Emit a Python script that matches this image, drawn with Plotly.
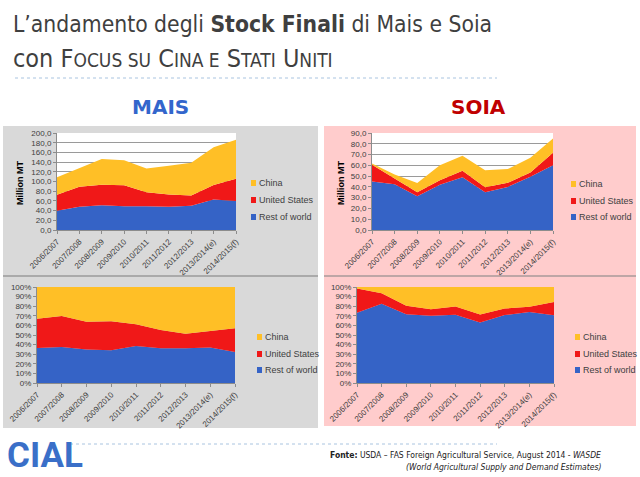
import plotly.graph_objects as go

W, H = 640, 477

years = ["2006/2007", "2007/2008", "2008/2009", "2009/2010", "2010/2011",
         "2011/2012", "2012/2013", "2013/2014(e)", "2014/2015(f)"]
series_names = ["Rest of world", "United States", "China"]

mais_row = [39.7, 48.0, 51.0, 49.0, 49.0, 48.0, 50.0, 63.0, 60.0]
mais_us = [33.1, 41.3, 42.5, 43.4, 28.6, 25.1, 20.9, 30.0, 45.9]
mais_cn = [35.9, 38.6, 53.0, 51.4, 49.4, 59.3, 67.6, 77.8, 80.0]

soia_row = [45.0, 42.5, 31.2, 42.0, 49.0, 35.0, 40.0, 49.5, 60.0]
soia_us = [15.6, 5.6, 3.8, 4.1, 5.9, 4.6, 3.8, 3.8, 11.7]
soia_cn = [1.0, 3.4, 8.5, 13.9, 14.1, 15.9, 12.7, 13.7, 13.3]

colors = ["#3563C6", "#F01818", "#FFBF26"]

def X(px):
    return px / W

def Y(px):
    return 1 - px / H

fig = go.Figure()

subplots = [
    ("x", "y", [mais_row, mais_us, mais_cn], False, (57, 236), (133, 230), 200, 20),
    ("x2", "y2", [soia_row, soia_us, soia_cn], False, (372, 553), (133, 230), 90, 10),
    ("x3", "y3", [mais_row, mais_us, mais_cn], True, (37, 235), (287, 383), 100, 10),
    ("x4", "y4", [soia_row, soia_us, soia_cn], True, (357, 554), (287, 383), 100, 10),
]

tickfont = dict(family="Liberation Sans, Arial", size=8, color="#404040")
shapes = []
shapes.append(dict(type="rect", xref="paper", yref="paper", x0=X(3), x1=X(318), y0=Y(428), y1=Y(126),
                   fillcolor="#D9D9D9", line=dict(width=0), layer="below"))
shapes.append(dict(type="rect", xref="paper", yref="paper", x0=X(324), x1=X(636), y0=Y(426), y1=Y(126),
                   fillcolor="#FFCCCC", line=dict(width=0), layer="below"))
shapes.append(dict(type="line", xref="paper", yref="paper", x0=X(3), x1=X(318), y0=Y(276), y1=Y(276),
                   line=dict(color="#9A9A9A", width=1.5)))
shapes.append(dict(type="line", xref="paper", yref="paper", x0=X(324), x1=X(636), y0=Y(276), y1=Y(276),
                   line=dict(color="#A89A9A", width=1.5)))

layout_axes = {}
for i, (xa, ya, data, pct, (xl, xr), (yt, yb), ymax, dt) in enumerate(subplots):
    sg = "s%d" % i
    for k, (vals, name) in enumerate(zip(data, series_names)):
        tr = dict(x=years, y=vals, name=name, mode="lines", stackgroup=sg,
                  line=dict(width=0, color=colors[k]), fillcolor=colors[k],
                  xaxis=xa, yaxis=ya, showlegend=False, hoverinfo="skip")
        if pct and k == 0:
            tr["groupnorm"] = "percent"
        fig.add_trace(go.Scatter(**tr))
    xkey = "xaxis" + xa[1:]
    ykey = "yaxis" + ya[1:]
    layout_axes[xkey] = dict(domain=[X(xl), X(xr)], anchor=ya, type="category",
                             range=[0, 8], tickangle=-45, tickfont=tickfont,
                             showline=True, linecolor="#8C8C8C", linewidth=1,
                             ticks="outside", ticklen=3, tickcolor="#8C8C8C",
                             showgrid=False, zeroline=False, fixedrange=True,
                             automargin=False)
    yax = dict(domain=[Y(yb), Y(yt)], anchor=xa, range=[0, ymax], dtick=dt,
               tickfont=tickfont, showline=True, linecolor="#8C8C8C", linewidth=1,
               ticks="outside", ticklen=3, tickcolor="#8C8C8C", zeroline=False,
               fixedrange=True, automargin=False)
    if pct:
        yax.update(ticksuffix="%", showgrid=False)
    else:
        yax.update(tickformat=".1f", showgrid=True, gridcolor="#9A9A9A", gridwidth=1)
        shapes.append(dict(type="rect", xref=xa + " domain", yref=ya + " domain",
                           x0=0, x1=1, y0=0, y1=1, fillcolor="white",
                           line=dict(width=0), layer="below"))
    layout_axes[ykey] = yax

annotations = []

def txt(text, x, y, size, color="#404040", family="DejaVu Sans Condensed, DejaVu Sans",
        xanchor="left", yanchor="middle", angle=0):
    annotations.append(dict(text=text, x=X(x), y=Y(y), xref="paper", yref="paper",
                            showarrow=False, xanchor=xanchor, yanchor=yanchor,
                            textangle=angle, font=dict(size=size, color=color, family=family)))

txt("L’andamento degli <b>Stock Finali</b> di Mais e Soia", 11, 24, 22.7, color="#3F3F3F")
sc = 19
txt("con F<span style='font-size:%dpx'>OCUS SU</span> C<span style='font-size:%dpx'>INA E</span> "
    "S<span style='font-size:%dpx'>TATI</span> U<span style='font-size:%dpx'>NITI</span>" % (sc, sc, sc, sc),
    11, 58, 25, color="#3F3F3F")
shapes.append(dict(type="line", xref="paper", yref="paper", x0=X(15), x1=X(497), y0=Y(78), y1=Y(78),
                   line=dict(color="#A9C4E0", width=1, dash="dot")))

txt("<b>MAIS</b>", 160, 107, 20, color="#3366CC", family="DejaVu Sans", xanchor="center")
txt("<b>SOIA</b>", 478, 107, 20, color="#C00000", family="DejaVu Sans", xanchor="center")

txt("<b>Million MT</b>", 20, 183, 9, color="#000000", family="Liberation Sans, Arial",
    xanchor="center", angle=-90)
txt("<b>Million MT</b>", 341, 183, 9, color="#000000", family="Liberation Sans, Arial",
    xanchor="center", angle=-90)

legend_pos = [(251, [183, 200, 217]), (571, [184, 201, 217]),
              (257, [337, 354, 370]), (575, [337, 354, 370])]
order = [2, 1, 0]
for lx, rows in legend_pos:
    for ry, k in zip(rows, order):
        shapes.append(dict(type="rect", xref="paper", yref="paper",
                           x0=X(lx), x1=X(lx + 5), y0=Y(ry + 3), y1=Y(ry - 3),
                           fillcolor=colors[k], line=dict(width=0)))
        txt(series_names[k], lx + 6, ry, 9, color="#404040", family="Liberation Sans, Arial")

shapes.append(dict(type="line", xref="paper", yref="paper", x0=X(70), x1=X(497), y0=Y(444), y1=Y(444),
                   line=dict(color="#A9C4E0", width=1, dash="dot")))
txt("<b>Fonte:</b> USDA – FAS Foreign Agricultural Service, August 2014 - <i>WASDE</i>",
    603, 455, 8.5, color="#222222", xanchor="right")
txt("<i>(World Agricultural Supply and Demand Estimates)</i>", 603, 467, 8.5,
    color="#222222", xanchor="right")
txt("<b>CIAL</b>", 5, 455, 35, color="#3A6FC8", family="Roboto, Liberation Sans")

fig.update_layout(width=W, height=H, margin=dict(l=0, r=0, t=0, b=0),
                  paper_bgcolor="white", plot_bgcolor="rgba(0,0,0,0)",
                  separators=",.", showlegend=False, shapes=shapes,
                  annotations=annotations, **layout_axes)

fig.write_html("out.html", config={"displayModeBar": False},
               post_script="document.body.style.margin='0px';document.body.style.overflow='hidden';")
